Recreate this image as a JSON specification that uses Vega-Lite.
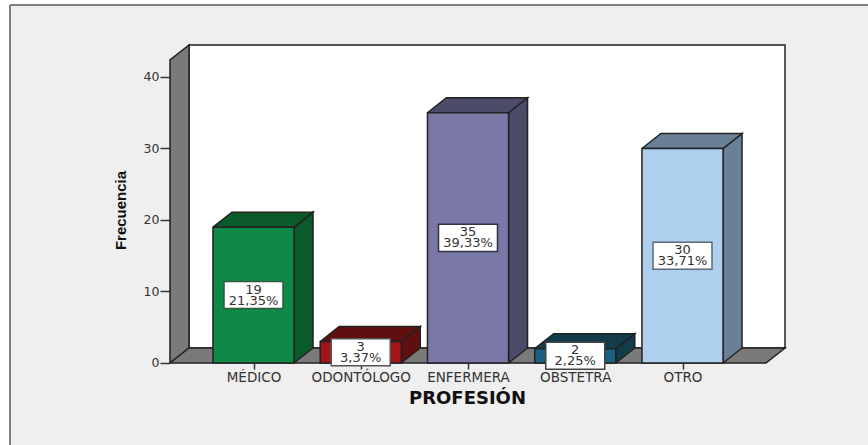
{
  "$schema": "https://vega.github.io/schema/vega-lite/v6.json",
  "width": 858,
  "height": 440,
  "autosize": "none",
  "padding": {"left": 10, "top": 5, "right": 0, "bottom": 0},
  "background": "#ffffff",
  "view": {"fill": "#efefef", "stroke": null},
  "datasets": {
    "marco": [{"marco": "grafico"}],
    "profesiones": [
      {"profesion": "MÉDICO", "idx": 0, "frecuencia": 19, "porcentaje": "21,35%"},
      {"profesion": "ODONTÓLOGO", "idx": 1, "frecuencia": 3, "porcentaje": "3,37%"},
      {"profesion": "ENFERMERA", "idx": 2, "frecuencia": 35, "porcentaje": "39,33%"},
      {"profesion": "OBSTETRA", "idx": 3, "frecuencia": 2, "porcentaje": "2,25%"},
      {"profesion": "OTRO", "idx": 4, "frecuencia": 30, "porcentaje": "33,71%"}
    ],
    "paredes": [
      {"pared": "izquierda", "orden": 0, "px": -0.7786, "py": 0},
      {"pared": "izquierda", "orden": 1, "px": -0.6014, "py": 2.098},
      {"pared": "izquierda", "orden": 2, "px": -0.6014, "py": 44.48},
      {"pared": "izquierda", "orden": 3, "px": -0.7786, "py": 42.38},
      {"pared": "izquierda", "orden": 4, "px": -0.7786, "py": 0},
      {"pared": "piso", "orden": 0, "px": -0.7786, "py": 0},
      {"pared": "piso", "orden": 1, "px": -0.6014, "py": 2.098},
      {"pared": "piso", "orden": 2, "px": 4.9557, "py": 2.098},
      {"pared": "piso", "orden": 3, "px": 4.7786, "py": 0},
      {"pared": "piso", "orden": 4, "px": -0.7786, "py": 0}
    ]
  },
  "encoding": {
    "x": {
      "field": "px",
      "type": "quantitative",
      "scale": {"domain": [-2.2704, 5.7296], "nice": false, "zero": false},
      "axis": {
        "values": [0, 1, 2, 3, 4],
        "labelExpr": "['MÉDICO','ODONTÓLOGO','ENFERMERA','OBSTETRA','OTRO'][datum.value]",
        "offset": -82,
        "domain": false,
        "grid": false,
        "tickSize": 6,
        "tickWidth": 1.5,
        "tickColor": "#333333",
        "labelFont": "DejaVu Sans",
        "labelFontSize": 13.5,
        "labelColor": "#333333",
        "labelPadding": 1,
        "labelOverlap": false,
        "labelFlush": false,
        "title": "PROFESIÓN",
        "titleFont": "DejaVu Sans",
        "titleFontSize": 18,
        "titleFontWeight": "bold",
        "titleColor": "#111111",
        "titleX": 457,
        "titleY": 35,
        "titleAlign": "center",
        "titleBaseline": "middle"
      }
    },
    "y": {
      "field": "py",
      "type": "quantitative",
      "scale": {"domain": [-11.47, 50.07], "nice": false, "zero": false},
      "axis": {
        "values": [0, 10, 20, 30, 40],
        "offset": -160,
        "domain": false,
        "grid": false,
        "tickSize": 10,
        "tickWidth": 1.5,
        "tickColor": "#333333",
        "labelFont": "DejaVu Sans",
        "labelFontSize": 12.5,
        "labelColor": "#333333",
        "labelPadding": 1,
        "title": "Frecuencia",
        "titleFont": "Liberation Sans",
        "titleFontSize": 15,
        "titleFontWeight": "bold",
        "titleColor": "#111111",
        "titleX": -50,
        "titleY": 205,
        "titleAngle": 270,
        "titleAlign": "center",
        "titleBaseline": "middle"
      }
    }
  },
  "layer": [
    {
      "data": {"name": "marco"},
      "transform": [
        {"calculate": "-2.2704", "as": "px"},
        {"calculate": "-11.47", "as": "py"},
        {"calculate": "50.07", "as": "py2"}
      ],
      "mark": {"type": "rule", "stroke": "#7f7f7f", "strokeWidth": 2},
      "encoding": {"y2": {"field": "py2"}}
    },
    {
      "data": {"name": "marco"},
      "transform": [
        {"calculate": "-2.2704", "as": "px"},
        {"calculate": "5.7296", "as": "px2"},
        {"calculate": "50.07", "as": "py"}
      ],
      "mark": {"type": "rule", "stroke": "#7f7f7f", "strokeWidth": 2},
      "encoding": {"x2": {"field": "px2"}}
    },
    {
      "data": {"name": "marco"},
      "transform": [
        {"calculate": "-0.6014", "as": "px"},
        {"calculate": "4.9557", "as": "px2"},
        {"calculate": "2.098", "as": "py"},
        {"calculate": "44.48", "as": "py2"}
      ],
      "mark": {"type": "rect", "fill": "#ffffff", "stroke": "#222222", "strokeWidth": 1.5},
      "encoding": {"x2": {"field": "px2"}, "y2": {"field": "py2"}}
    },
    {
      "data": {"name": "paredes"},
      "mark": {"type": "line", "fill": "#7a7a7a", "stroke": "#222222", "strokeWidth": 1.5, "strokeJoin": "miter"},
      "encoding": {
        "detail": {"field": "pared"},
        "order": {"field": "orden"}
      }
    },
    {
      "data": {"name": "profesiones"},
      "transform": [
        {"calculate": "[0,1,2,3,4]", "as": "esquina"},
        {"flatten": ["esquina"]},
        {"calculate": "datum.idx + [0.378,0.555,0.555,0.378,0.378][datum.esquina]", "as": "px"},
        {"calculate": "[0,2.098,datum.frecuencia+2.098,datum.frecuencia,0][datum.esquina]", "as": "py"}
      ],
      "mark": {"type": "line", "stroke": "#222222", "strokeWidth": 1.5, "strokeJoin": "miter"},
      "encoding": {
        "fill": {
          "field": "profesion",
          "type": "nominal",
          "legend": null,
          "scale": {
            "domain": ["MÉDICO", "ODONTÓLOGO", "ENFERMERA", "OBSTETRA", "OTRO"],
            "range": ["#0b5a2b", "#5f0f10", "#4c4c68", "#123c49", "#6a8096"]
          }
        },
        "order": {"field": "esquina"}
      }
    },
    {
      "data": {"name": "profesiones"},
      "transform": [
        {"calculate": "[0,1,2,3,4]", "as": "esquina"},
        {"flatten": ["esquina"]},
        {"calculate": "datum.idx + [-0.378,-0.201,0.555,0.378,-0.378][datum.esquina]", "as": "px"},
        {"calculate": "datum.frecuencia + [0,2.098,2.098,0,0][datum.esquina]", "as": "py"}
      ],
      "mark": {"type": "line", "stroke": "#222222", "strokeWidth": 1.5, "strokeJoin": "miter"},
      "encoding": {
        "fill": {
          "field": "profesion",
          "type": "nominal",
          "legend": null,
          "scale": {
            "domain": ["MÉDICO", "ODONTÓLOGO", "ENFERMERA", "OBSTETRA", "OTRO"],
            "range": ["#0b5a2b", "#5f0f10", "#4c4c68", "#123c49", "#6a8096"]
          }
        },
        "order": {"field": "esquina"}
      }
    },
    {
      "data": {"name": "profesiones"},
      "transform": [
        {"calculate": "datum.idx - 0.378", "as": "px"},
        {"calculate": "datum.idx + 0.378", "as": "px2"},
        {"calculate": "datum.frecuencia", "as": "py"}
      ],
      "mark": {"type": "rect", "stroke": "#222222", "strokeWidth": 1.5},
      "encoding": {
        "x2": {"field": "px2"},
        "y2": {"datum": 0},
        "fill": {
          "field": "profesion",
          "type": "nominal",
          "legend": null,
          "scale": {
            "domain": ["MÉDICO", "ODONTÓLOGO", "ENFERMERA", "OBSTETRA", "OTRO"],
            "range": ["#0f8a46", "#a31419", "#7a78a6", "#1b6080", "#aed0ee"]
          }
        }
      }
    },
    {
      "data": {"name": "profesiones"},
      "transform": [
        {"calculate": "datum.idx - 0.275", "as": "px"},
        {"calculate": "datum.idx + 0.275", "as": "px2"},
        {"calculate": "datum.frecuencia / 2 - 1.89", "as": "py"},
        {"calculate": "datum.frecuencia / 2 + 1.89", "as": "py2"}
      ],
      "mark": {"type": "rect", "fill": "#ffffff", "strokeWidth": 1.5},
      "encoding": {
        "x2": {"field": "px2"},
        "y2": {"field": "py2"},
        "stroke": {
          "field": "profesion",
          "type": "nominal",
          "legend": null,
          "scale": {
            "domain": ["MÉDICO", "ODONTÓLOGO", "ENFERMERA", "OBSTETRA", "OTRO"],
            "range": ["#2d5a3e", "#555555", "#333344", "#444444", "#5c6a76"]
          }
        }
      }
    },
    {
      "data": {"name": "profesiones"},
      "transform": [
        {"calculate": "datum.idx", "as": "px"},
        {"calculate": "datum.frecuencia / 2", "as": "py"},
        {"calculate": "[format(datum.frecuencia, 'd'), datum.porcentaje]", "as": "etiqueta"}
      ],
      "mark": {"type": "text", "font": "DejaVu Sans", "fontSize": 13, "lineHeight": 11, "color": "#333333", "baseline": "middle", "align": "center", "dy": -5.5},
      "encoding": {"text": {"field": "etiqueta"}}
    }
  ],
  "resolve": {"scale": {"fill": "independent", "stroke": "independent"}}
}
